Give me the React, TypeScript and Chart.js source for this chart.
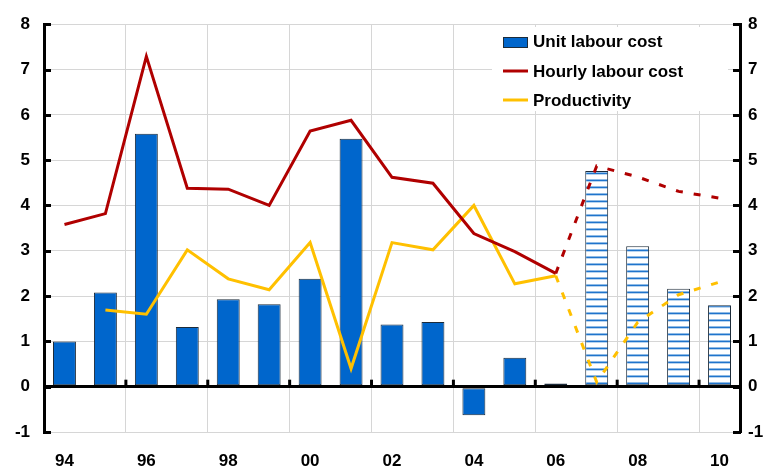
import React, { useEffect, useRef } from 'react';
import { Chart, registerables } from 'chart.js';

Chart.register(...registerables);

const years = ['94', '95', '96', '97', '98', '99', '00', '01', '02', '03', '04', '05', '06', '07', '08', '09', '10'];
const xTickLabels = ['94', '', '96', '', '98', '', '00', '', '02', '', '04', '', '06', '', '08', '', '10'];
const unitLabourCost = [1.0, 2.08, 5.58, 1.32, 1.93, 1.82, 2.38, 5.47, 1.37, 1.43, -0.63, 0.64, 0.07, 4.76, 3.1, 2.16, 1.8];
const hourlyLabourCost = [3.58, 3.82, 7.29, 4.38, 4.36, 4.0, 5.64, 5.88, 4.62, 4.49, 3.38, 2.98, 2.5, 4.87, 4.63, 4.31, 4.16];
const productivity = [null, 1.69, 1.6, 3.02, 2.38, 2.14, 3.18, 0.4, 3.18, 3.02, 4.0, 2.27, 2.45, 0.1, 1.42, 2.03, 2.31];
const seriesNames = ['Unit labour cost', 'Hourly labour cost', 'Productivity'];
const yTicks = [-1, 0, 1, 2, 3, 4, 5, 6, 7, 8];
const lastActualIndex = 12; // 2006: later values are projections

const BLUE = '#0066CC';
const RED = '#B00000';
const GOLD = '#FFC000';
const BAR_BORDER = '#1c2b3a';
const GRID = '#d6d6d6';
const FONT = '"Liberation Sans", Arial, sans-serif';

function makeStripePattern(): CanvasPattern | string {
  const c = document.createElement('canvas');
  c.width = 8;
  c.height = 7;
  const g = c.getContext('2d');
  if (!g) return BLUE;
  g.fillStyle = '#ffffff';
  g.fillRect(0, 0, 8, 7);
  g.fillStyle = '#8fbbe6';
  g.fillRect(0, 4, 8, 1);
  g.fillStyle = '#1f74cc';
  g.fillRect(0, 5, 8, 1);
  g.fillStyle = '#b8d4ef';
  g.fillRect(0, 6, 8, 1);
  const p = g.createPattern(c, 'repeat');
  return p || BLUE;
}

const decorPlugin = {
  id: 'decor',
  beforeDatasetsDraw(chart: any) {
    const { ctx } = chart;
    ctx.save();
    ctx.fillStyle = '#ffffff';
    ctx.fillRect(492, 27, 236, 84);
    const lx = 503;
    const lw = 25;
    ctx.fillStyle = BLUE;
    ctx.fillRect(lx, 37, lw, 11);
    ctx.strokeStyle = BAR_BORDER;
    ctx.lineWidth = 1;
    ctx.strokeRect(lx + 0.5, 37.5, lw - 1, 10);
    ctx.lineWidth = 3;
    ctx.strokeStyle = RED;
    ctx.beginPath();
    ctx.moveTo(lx, 71);
    ctx.lineTo(lx + lw, 71);
    ctx.stroke();
    ctx.strokeStyle = GOLD;
    ctx.beginPath();
    ctx.moveTo(lx, 100);
    ctx.lineTo(lx + lw, 100);
    ctx.stroke();
    ctx.fillStyle = '#000000';
    ctx.font = `bold 17px ${FONT}`;
    ctx.textAlign = 'left';
    ctx.textBaseline = 'alphabetic';
    ctx.fillText(seriesNames[0], 533, 47);
    ctx.fillText(seriesNames[1], 533, 77);
    ctx.fillText(seriesNames[2], 533, 106);
    ctx.restore();
  },
  afterDraw(chart: any) {
    const { ctx, chartArea, scales } = chart;
    const y = scales.y;
    const x = scales.x;
    ctx.save();
    ctx.strokeStyle = '#000000';
    ctx.lineWidth = 3;
    yTicks.forEach((v) => {
      const py = Math.round(y.getPixelForValue(v)) + 0.5;
      ctx.beginPath();
      ctx.moveTo(chartArea.left - 1, py);
      ctx.lineTo(chartArea.left + 7, py);
      ctx.moveTo(chartArea.right - 7, py);
      ctx.lineTo(chartArea.right + 1, py);
      ctx.stroke();
    });
    const y0 = y.getPixelForValue(0);
    for (let i = 2; i < years.length; i += 2) {
      const px = (x.getPixelForTick(i) + x.getPixelForTick(i - 1)) / 2;
      ctx.beginPath();
      ctx.moveTo(px, y0 - 7);
      ctx.lineTo(px, y0);
      ctx.stroke();
    }
    ctx.restore();
  },
};

export default function App() {
  const ref = useRef<HTMLCanvasElement | null>(null);

  useEffect(() => {
    if (!ref.current) return;
    const stripes = makeStripePattern();
    const dashed = (ctx: any) => (ctx.p0DataIndex >= lastActualIndex ? [7, 11] : undefined);
    const chart = new Chart(ref.current, {
      type: 'bar',
      data: {
        labels: years,
        datasets: [
          {
            type: 'line',
            label: seriesNames[1],
            data: hourlyLabourCost,
            borderColor: RED,
            backgroundColor: RED,
            borderWidth: 3,
            pointRadius: 0,
            borderJoinStyle: 'miter',
            tension: 0,
            segment: { borderDash: dashed },
            order: 0,
            yAxisID: 'y',
          },
          {
            type: 'line',
            label: seriesNames[2],
            data: productivity,
            borderColor: GOLD,
            backgroundColor: GOLD,
            borderWidth: 3,
            pointRadius: 0,
            borderJoinStyle: 'miter',
            tension: 0,
            spanGaps: false,
            segment: { borderDash: dashed },
            order: 1,
            yAxisID: 'y',
          },
          {
            type: 'bar',
            label: seriesNames[0],
            data: unitLabourCost,
            backgroundColor: (c: any) => (c.dataIndex > lastActualIndex ? stripes : BLUE),
            borderColor: BAR_BORDER,
            borderWidth: 1,
            borderSkipped: false,
            categoryPercentage: 1,
            barPercentage: 0.56,
            order: 2,
            yAxisID: 'y',
          },
        ] as any,
      },
      options: {
        responsive: false,
        animation: false,
        devicePixelRatio: 1,
        layout: { padding: { top: 20, left: 0, right: 0, bottom: 0 } },
        plugins: {
          legend: { display: false },
          tooltip: { enabled: false },
        },
        scales: {
          x: {
            offset: true,
            grid: {
              offset: true,
              drawTicks: false,
              color: (c: any) => (c.index % 2 === 0 ? GRID : 'rgba(0,0,0,0)'),
              lineWidth: 1,
            },
            border: { display: false },
            ticks: {
              autoSkip: false,
              maxRotation: 0,
              padding: 19,
              color: '#000',
              font: { family: FONT, size: 17, weight: 'bold' },
              callback: (_v: any, i: number) => xTickLabels[i],
            },
            afterFit: (s: any) => {
              s.height = 38;
            },
          },
          y: {
            position: 'left',
            min: -1,
            max: 8,
            ticks: {
              stepSize: 1,
              padding: 14,
              color: '#000',
              font: { family: FONT, size: 17, weight: 'bold' },
            },
            grid: {
              drawTicks: false,
              color: (c: any) => (c.tick && c.tick.value === 0 ? '#000000' : GRID),
              lineWidth: (c: any) => (c.tick && c.tick.value === 0 ? 3 : 1),
            },
            border: { display: true, color: '#000', width: 3 },
            afterFit: (s: any) => {
              s.width = 44;
            },
          },
          y1: {
            position: 'right',
            min: -1,
            max: 8,
            ticks: {
              stepSize: 1,
              padding: 8,
              color: '#000',
              font: { family: FONT, size: 17, weight: 'bold' },
            },
            grid: { display: false, drawTicks: false },
            border: { display: true, color: '#000', width: 3 },
            afterFit: (s: any) => {
              s.width = 30;
            },
          },
        },
      } as any,
      plugins: [decorPlugin],
    });
    return () => chart.destroy();
  }, []);

  return (
    <div style={{ position: 'fixed', left: 0, top: 0, width: 770, height: 470, background: '#fff' }}>
      <canvas ref={ref} width={770} height={470} />
    </div>
  );
}
